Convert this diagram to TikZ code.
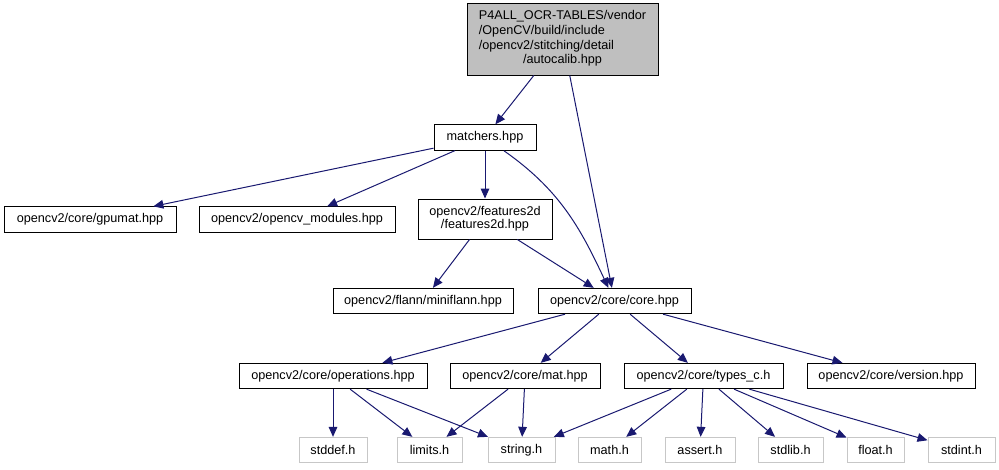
\documentclass[tikz,border=0pt]{standalone}
\usepackage{fontspec}
\setmainfont{Liberation Sans}
\usetikzlibrary{arrows.meta}
\definecolor{edgeblue}{HTML}{191970}

\begin{document}
\begin{tikzpicture}[x=.75pt,y=-.75pt,font=\fontsize{9.5}{10}\selectfont,
  file/.style={draw=black,fill=white,line width=.75pt,inner sep=0pt,minimum height=19pt,align=center},
  sysfile/.style={file,draw=black!22},
  dep/.style={draw=edgeblue,line width=.75pt,-{Triangle[length=7.5pt,width=6.5pt]}}]
\useasboundingbox (0,0) rectangle (999,469);
\node[file,fill=black!25,minimum width=143.25pt,minimum height=54pt,font=\fontsize{9.5}{11}\selectfont] (autocalib) at (562.5,39) {\begin{tabular}{@{}l@{}}P4ALL\_OCR-TABLES/vendor\\/OpenCV/build/include\\/opencv2/stitching/detail\\\multicolumn{1}{@{}c@{}}{/autocalib.hpp}\end{tabular}};
\node[file,minimum width=76.5pt] (matchers) at (485,137.5) {matchers.hpp};
\node[file,minimum width=129pt] (gpumat) at (90,219.5) {opencv2/core/gpumat.hpp};
\node[file,minimum width=147pt] (modules) at (297,219.5) {opencv2/opencv\_modules.hpp};
\node[file,minimum width=100.5pt,minimum height=30pt] (features) at (485,219) {opencv2/features2d\\/features2d.hpp};
\node[file,minimum width=135pt] (miniflann) at (423,301) {opencv2/flann/miniflann.hpp};
\node[file,minimum width=114.75pt] (core) at (614.5,301) {opencv2/core/core.hpp};
\node[file,minimum width=141pt] (operations) at (333,376) {opencv2/core/operations.hpp};
\node[file,minimum width=112.5pt] (mat) at (525,376) {opencv2/core/mat.hpp};
\node[file,minimum width=119.25pt] (types) at (703.5,376) {opencv2/core/types\_c.h};
\node[file,minimum width=126pt] (version) at (891,376) {opencv2/core/version.hpp};
\node[sysfile,minimum width=51pt] (stddef) at (333,450) {stddef.h};
\node[sysfile,minimum width=48.75pt] (limits) at (429.5,450) {limits.h};
\node[sysfile,minimum width=50.25pt] (string) at (521.5,450) {string.h};
\node[sysfile,minimum width=47.25pt] (math) at (609.5,450) {math.h};
\node[sysfile,minimum width=52.5pt] (assert) at (700,450) {assert.h};
\node[sysfile,minimum width=48.75pt] (stdlib) at (790.5,450) {stdlib.h};
\node[sysfile,minimum width=42.75pt] (float) at (875.5,450) {float.h};
\node[sysfile,minimum width=50.25pt] (stdint) at (961.5,450) {stdint.h};
\draw[dep] (autocalib) -- (matchers);
\draw[dep] (autocalib) -- (core);
\draw[dep] (matchers) -- (gpumat);
\draw[dep] (matchers) -- (modules);
\draw[dep] (matchers) -- (features);
\draw[dep] (matchers) to[out=-35,in=115] (core);
\draw[dep] (features) -- (miniflann);
\draw[dep] (features) -- (core);
\draw[dep] (core) -- (operations);
\draw[dep] (core) -- (mat);
\draw[dep] (core) -- (types);
\draw[dep] (core) -- (version);
\draw[dep] (operations) -- (stddef);
\draw[dep] (operations) -- (limits);
\draw[dep] (operations) -- (string);
\draw[dep] (mat) -- (limits);
\draw[dep] (mat) -- (string);
\draw[dep] (types) -- (string);
\draw[dep] (types) -- (math);
\draw[dep] (types) -- (assert);
\draw[dep] (types) -- (stdlib);
\draw[dep] (types) -- (float);
\draw[dep] (types) -- (stdint);
\end{tikzpicture}
\end{document}
